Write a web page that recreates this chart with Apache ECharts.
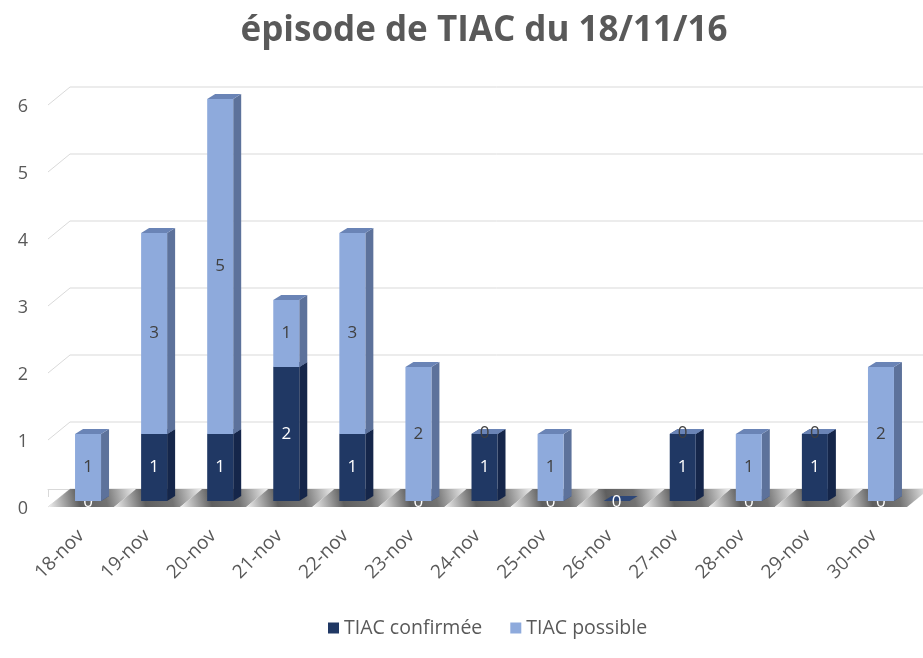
<!DOCTYPE html>
<html>
<head>
<meta charset="utf-8">
<script src="https://cdn.jsdelivr.net/npm/echarts@6/dist/echarts.min.js"></script>
<style>
  html, body { margin: 0; padding: 0; background: #fff; }
  #chart { width: 923px; height: 658px; }
</style>
</head>
<body>
<div id="chart"></div>
<script>
// Data
const dates = ["18-nov", "19-nov", "20-nov", "21-nov", "22-nov", "23-nov", "24-nov",
  "25-nov", "26-nov", "27-nov", "28-nov", "29-nov", "30-nov"];
const confirmee = [0, 1, 1, 2, 1, 0, 1, 0, 0, 1, 0, 1, 0];
const possible = [1, 3, 5, 1, 3, 2, 0, 1, null, 0, 1, 0, 2];
const yTicks = [0, 1, 2, 3, 4, 5, 6];
const seriesNames = ["TIAC confirmée", "TIAC possible"];

const FONT = "'Open Sans', 'Noto Sans', sans-serif";

// face colours: front, side, top
const palette = [
  { front: "#203864", side: "#15264a", top: "#2d4778", label: "#ffffff" },
  { front: "#8eaadc", side: "#5d729b", top: "#6a84b6", label: "#404040" },
];

// fake 3D: offset from the back wall to the front face, and depth of the box
const FRONT_DX = 7, FRONT_DY = 12;
const BAR_W = 26, DEPTH_X = 8, DEPTH_Y = 5;
const WALL_DX = 22, WALL_DY = 18;

function barRenderer(idx) {
  const c = palette[idx];
  return function (params, api) {
    const i = api.value(0);
    const base = api.value(1);
    const val = api.value(2);
    const pB = api.coord([i, base]);
    const pT = api.coord([i, base + val]);
    const cx = pB[0] + FRONT_DX;
    const yb = pB[1] + FRONT_DY;
    const yt = pT[1] + FRONT_DY;
    const x0 = cx - BAR_W / 2, x1 = cx + BAR_W / 2;

    const children = [
      {
        type: "polygon",
        shape: { points: [[x1, yb], [x1, yt], [x1 + DEPTH_X, yt - DEPTH_Y], [x1 + DEPTH_X, yb - DEPTH_Y]] },
        style: { fill: c.side },
      },
      {
        type: "rect",
        shape: { x: x0, y: yt, width: BAR_W, height: yb - yt },
        style: { fill: c.front },
      },
      {
        type: "polygon",
        shape: { points: [[x0, yt], [x1, yt], [x1 + DEPTH_X, yt - DEPTH_Y], [x0 + DEPTH_X, yt - DEPTH_Y]] },
        style: { fill: c.top },
      },
    ];

    // label position: zero confirmée sits at the floor, zero possible on top
    let ly = (yb + yt) / 2;
    if (val === 0) ly = idx === 0 ? yb + 1 : yt - 1;
    children.push({
      type: "text",
      z2: 10,
      style: {
        text: String(val),
        x: cx,
        y: ly,
        fill: c.label,
        font: "17px " + FONT,
        align: "center",
        verticalAlign: "middle",
      },
    });
    return { type: "group", children: children };
  };
}

// back wall lines with the small diagonal on the left side
function wallRenderer(params, api) {
  const v = api.value(1);
  const p = api.coord([0, v]);
  const cs = params.coordSys;
  return {
    type: "polyline",
    shape: {
      points: [[cs.x, p[1] + WALL_DY], [cs.x + WALL_DX, p[1]], [cs.x + cs.width + 16, p[1]]],
    },
    style: { stroke: "#d9d9d9", lineWidth: 1, fill: null },
  };
}

function floorRenderer(params, api) {
  const i = api.value(0);
  const p = api.coord([i, 0]);
  const half = api.size([1, 0])[0] / 2;
  const yFront = p[1] + WALL_DY, yBack = p[1];
  return {
    type: "polygon",
    shape: {
      points: [[p[0] - half, yFront], [p[0] + half, yFront],
        [p[0] + half + WALL_DX, yBack], [p[0] - half + WALL_DX, yBack]],
    },
    style: {
      fill: new echarts.graphic.LinearGradient(0, 1, 1, 0, [
        { offset: 0, color: "#f2f2f2" },
        { offset: 0.35, color: "#5f5f5f" },
        { offset: 0.65, color: "#737373" },
        { offset: 1, color: "#f2f2f2" },
      ]),
    },
  };
}

const confData = dates.map((d, i) => [i, 0, confirmee[i]]);
const possData = [];
dates.forEach((d, i) => {
  if (possible[i] !== null) possData.push([i, confirmee[i], possible[i]]);
});

const chart = echarts.init(document.getElementById("chart"));
chart.setOption({
  animation: false,
  title: {
    text: "épisode de TIAC du 18/11/16",
    left: 479,
    textAlign: "center",
    top: 9,
    textStyle: { fontFamily: FONT, fontSize: 35, fontWeight: "bold", color: "#595959" },
  },
  legend: {
    top: 613,
    left: 323,
    orient: "horizontal",
    itemWidth: 11,
    itemHeight: 11,
    itemGap: 28,
    icon: "rect",
    textStyle: { fontFamily: FONT, fontSize: 19.5, color: "#595959" },
    data: [
      { name: seriesNames[0], itemStyle: { color: palette[0].front } },
      { name: seriesNames[1], itemStyle: { color: palette[1].front } },
    ],
  },
  grid: { left: 48, right: 16, top: 87, bottom: 169 },
  xAxis: {
    type: "category",
    data: dates,
    offset: WALL_DY,
    axisLine: { lineStyle: { color: "#d9d9d9" } },
    axisTick: { show: true, length: 8, lineStyle: { color: "#d9d9d9" } },
    axisLabel: { rotate: 45, margin: 26, fontFamily: FONT, fontSize: 19, color: "#595959" },
  },
  yAxis: {
    type: "value",
    min: 0,
    max: 6,
    interval: 1,
    axisLine: { show: false },
    axisTick: { show: false },
    axisLabel: {
      fontFamily: FONT, fontSize: 18, color: "#595959", margin: 20,
      verticalAlign: "top", lineHeight: 40,
    },
    splitLine: { show: false },
  },
  series: [
    {
      type: "custom",
      name: "wall",
      renderItem: wallRenderer,
      data: yTicks.map((v) => [0, v]),
      encode: { x: 0, y: 1 },
      silent: true,
      z: 0,
    },
    {
      type: "custom",
      name: "floor",
      renderItem: floorRenderer,
      data: dates.map((d, i) => [i]),
      encode: { x: 0 },
      silent: true,
      z: 1,
    },
    {
      type: "custom",
      name: seriesNames[0],
      renderItem: barRenderer(0),
      data: confData,
      encode: { x: 0, y: 2 },
      itemStyle: { color: palette[0].front },
      z: 2,
    },
    {
      type: "custom",
      name: seriesNames[1],
      renderItem: barRenderer(1),
      data: possData,
      encode: { x: 0, y: 2 },
      itemStyle: { color: palette[1].front },
      z: 3,
    },
  ],
});
window.addEventListener("resize", () => chart.resize());
</script>
</body>
</html>
